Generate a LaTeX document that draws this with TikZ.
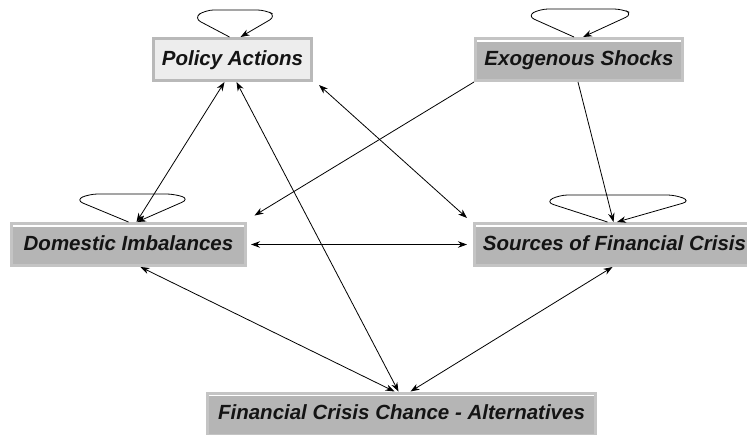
\documentclass[tikz,border=0pt]{standalone}
\usepackage{fontspec}
\setsansfont{Liberation Sans}
\usetikzlibrary{arrows.meta}
\definecolor{paneldark}{gray}{0.71}
\definecolor{panellight}{gray}{0.93}
\definecolor{paneledge}{gray}{0.77}
\definecolor{labelink}{gray}{0.08}

\begin{document}
\begin{tikzpicture}[x=1pt,y=-1pt,factor/.style={rectangle,line width=3pt,minimum height=42pt,inner sep=0pt,text=labelink,text height=15pt,text depth=4pt,font=\sffamily\bfseries\itshape\fontsize{20.5}{24}\selectfont},lightfactor/.style={factor,fill=panellight,draw=gray!55},darkfactor/.style={factor,fill=paneldark,draw=paneledge,path picture={\draw[white,line width=1.2pt] ([yshift=-2.5pt]path picture bounding box.north west) -- ([yshift=-2.5pt]path picture bounding box.north east);}},link/.style={line width=0.8pt,{Stealth[length=9pt,width=6.5pt]}-{Stealth[length=9pt,width=6.5pt]}},feed/.style={line width=0.8pt,-{Stealth[length=9pt,width=6.5pt]}},selfloop/.style={feed,rounded corners=8pt}]
\useasboundingbox (0,0) rectangle (747,434);
\clip (0,0) rectangle (747,434);
\node[lightfactor,minimum width=158pt] (policy) at (232.5,59.5) {Policy Actions};
\node[darkfactor,minimum width=207pt] (shocks) at (579,59.5) {Exogenous Shocks};
\node[darkfactor,minimum width=234pt] (domestic) at (128.5,244.5) {Domestic Imbalances};
\node[darkfactor,minimum width=280pt] (sources) at (614.5,244.5) {Sources of Financial Crisis};
\node[darkfactor,minimum width=388pt] (chance) at (401.5,414) {Financial Crisis Chance - Alternatives};
\draw[selfloop] ([xshift=-3pt]policy.north) -- ++(-36,-19) -- ++(12,-8) -- ++(60,0) -- ++(11,6) -- ([xshift=8pt]policy.north);
\draw[selfloop] ([xshift=-5pt]shocks.north) -- ++(-47,-21) -- ++(13,-7) -- ++(82,0) -- ++(11,5) -- ([xshift=4pt]shocks.north);
\draw[selfloop] (domestic.north) -- ++(-53,-22) -- ++(14,-6) -- ++(85,0) -- ++(15,5) -- ([xshift=8.5pt]domestic.north);
\draw[selfloop] ([xshift=-7pt]sources.north) -- ++(-62,-20) -- ++(14,-7) -- ++(116,0) -- ++(15,6) -- ([xshift=2.5pt]sources.north);
\draw[link] ([xshift=-8pt]policy.south) -- ([xshift=8pt]domestic.north);
\draw[link] ([xshift=4pt]policy.south) -- ([xshift=-3pt]chance.north);
\draw[link] ([shift={(6pt,-3pt)}]policy.south east) -- ([shift={(-6pt,4pt)}]sources.north west);
\draw[feed] (shocks.south west) -- ([shift={(7.5pt,6.5pt)}]domestic.north east);
\draw[feed] ([xshift=-1pt]shocks.south) -- ([xshift=-1pt]sources.north);
\draw[link] ([xshift=4pt]domestic.east) -- ([xshift=-6pt]sources.west);
\draw[link] ([xshift=12pt]domestic.south) -- ([xshift=-7pt]chance.north);
\draw[link] ([xshift=-2pt]sources.south) -- ([xshift=9pt]chance.north);
\end{tikzpicture}
\end{document}
